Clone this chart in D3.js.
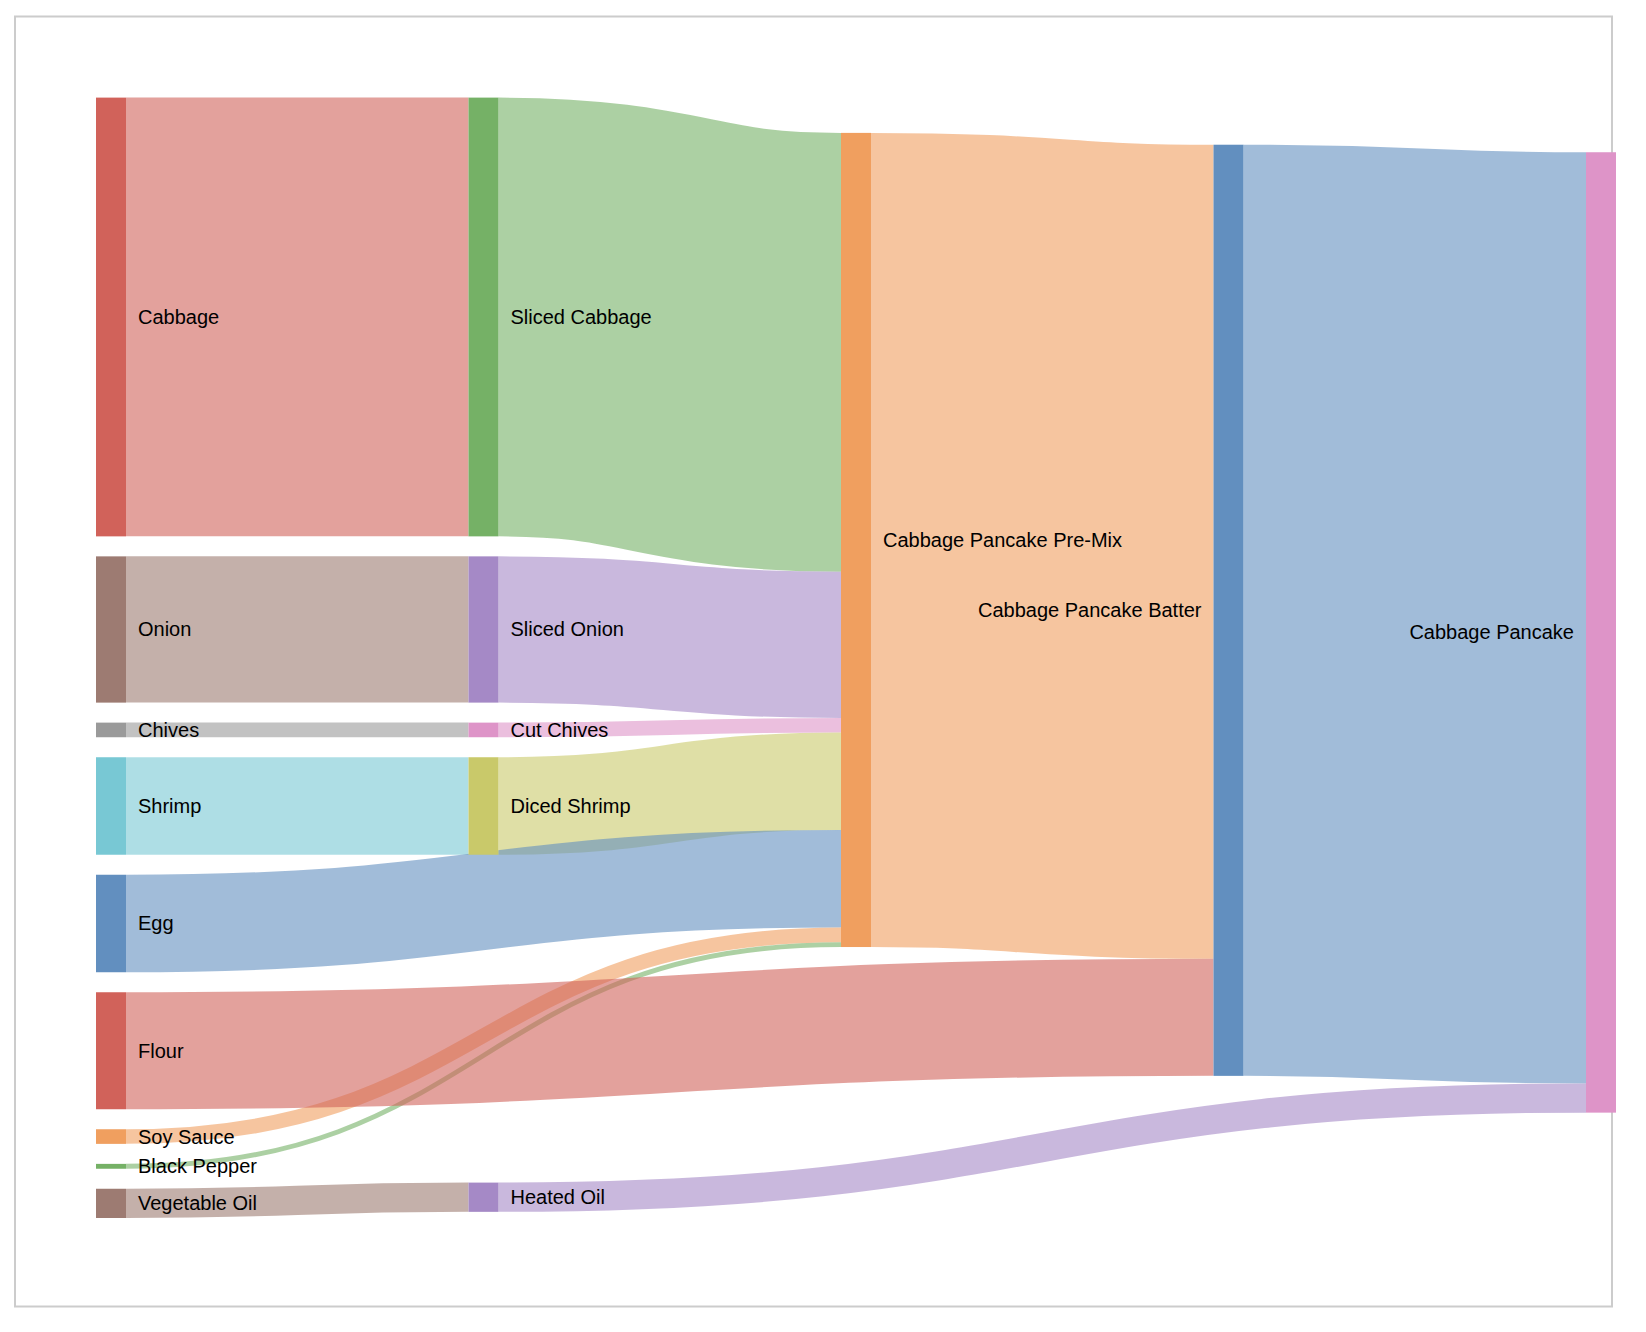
<!DOCTYPE html>
<html>
<head>
<meta charset="utf-8">
<script src="https://cdn.jsdelivr.net/npm/d3@7"></script>
<style>
  html, body { margin: 0; padding: 0; background: #fff; }
  svg { display: block; }
  text { font-family: "Liberation Sans", Arial, Helvetica, sans-serif; }
</style>
</head>
<body>
<svg id="chart" width="1646" height="1332"></svg>
<script>
// ---------------- data ----------------
const nodeNames = [
  "Cabbage", "Onion", "Chives", "Shrimp", "Egg", "Flour", "Soy Sauce", "Black Pepper", "Vegetable Oil",
  "Sliced Cabbage", "Sliced Onion", "Cut Chives", "Diced Shrimp", "Heated Oil",
  "Cabbage Pancake Pre-Mix", "Cabbage Pancake Batter", "Cabbage Pancake"
];
const linkSources = [
  "Cabbage", "Onion", "Chives", "Shrimp", "Vegetable Oil",
  "Sliced Cabbage", "Sliced Onion", "Cut Chives", "Diced Shrimp", "Egg", "Soy Sauce", "Black Pepper",
  "Cabbage Pancake Pre-Mix", "Flour",
  "Cabbage Pancake Batter", "Heated Oil"
];
const linkTargets = [
  "Sliced Cabbage", "Sliced Onion", "Cut Chives", "Diced Shrimp", "Heated Oil",
  "Cabbage Pancake Pre-Mix", "Cabbage Pancake Pre-Mix", "Cabbage Pancake Pre-Mix", "Cabbage Pancake Pre-Mix",
  "Cabbage Pancake Pre-Mix", "Cabbage Pancake Pre-Mix", "Cabbage Pancake Pre-Mix",
  "Cabbage Pancake Batter", "Cabbage Pancake Batter",
  "Cabbage Pancake", "Cabbage Pancake"
];
const linkValues = [
  450, 150, 15, 100, 30,
  450, 150, 15, 100, 100, 15, 5,
  835, 120,
  955, 30
];

// ---------------- style ----------------
const palette = {
  red: "#d1625a", green: "#75b166", brown: "#9d7b72", purple: "#a589c6", grey: "#9a9a9a",
  pink: "#de94c8", cyan: "#78c8d4", olive: "#c9c96a", blue: "#628fbf", orange: "#f09f5f"
};
const nodeColorKey = {
  "Cabbage": "red", "Onion": "brown", "Chives": "grey", "Shrimp": "cyan", "Egg": "blue",
  "Flour": "red", "Soy Sauce": "orange", "Black Pepper": "green", "Vegetable Oil": "brown",
  "Sliced Cabbage": "green", "Sliced Onion": "purple", "Cut Chives": "pink", "Diced Shrimp": "olive",
  "Heated Oil": "purple", "Cabbage Pancake Pre-Mix": "orange", "Cabbage Pancake Batter": "blue",
  "Cabbage Pancake": "pink"
};
const ext = { x0: 96, y0: 97.6, x1: 1616, y1: 1218 };
const nodeWidth = 30, nodePadding = 20, iterations = 6;
const keepInputOrder = true;

// ---------------- sankey layout (d3-sankey algorithm) ----------------
function sankeyLayout(nodesIn, linksIn) {
  const nodes = nodesIn.map((name, i) => ({ name, index: i, sourceLinks: [], targetLinks: [] }));
  const byName = new Map(nodes.map(n => [n.name, n]));
  const links = linksIn.map((l, i) => ({ index: i, source: byName.get(l.source), target: byName.get(l.target), value: l.value }));
  for (const l of links) { l.source.sourceLinks.push(l); l.target.targetLinks.push(l); }
  for (const n of nodes) n.value = Math.max(d3.sum(n.sourceLinks, d => d.value), d3.sum(n.targetLinks, d => d.value));

  let current = new Set(nodes), next = new Set, x = 0;
  while (current.size) {
    for (const n of current) { n.depth = x; for (const { target } of n.sourceLinks) next.add(target); }
    ++x; current = next; next = new Set;
  }
  const nCols = d3.max(nodes, d => d.depth) + 1;
  const xScale = d3.scaleLinear().domain([0, nCols - 1]).range([ext.x0, ext.x1 - nodeWidth]);
  const columns = Array.from({ length: nCols }, () => []);
  for (const n of nodes) {
    const i = n.sourceLinks.length ? n.depth : nCols - 1;
    n.layer = i; n.x0 = xScale(i); n.x1 = n.x0 + nodeWidth;
    columns[i].push(n);
  }
  const py = Math.min(nodePadding, (ext.y1 - ext.y0) / (d3.max(columns, c => c.length) - 1));
  const ky = d3.min(columns, c => (ext.y1 - ext.y0 - (c.length - 1) * py) / d3.sum(c, d => d.value));
  const hScale = d3.scaleLinear().domain([0, 1]).range([0, ky]);

  const asc = (a, b) => a.y0 - b.y0;
  const ascSrc = (a, b) => asc(a.source, b.source) || a.index - b.index;
  const ascTgt = (a, b) => asc(a.target, b.target) || a.index - b.index;
  function reorderLinks(col) { for (const n of col) { n.sourceLinks.sort(ascTgt); n.targetLinks.sort(ascSrc); } }
  function reorderNodeLinks(n) {
    for (const { source } of n.targetLinks) source.sourceLinks.sort(ascTgt);
    for (const { target } of n.sourceLinks) target.targetLinks.sort(ascSrc);
  }

  for (const col of columns) {
    let y = ext.y0;
    for (const n of col) {
      n.y0 = y; n.y1 = y + hScale(n.value); y = n.y1 + py;
      for (const l of n.sourceLinks) l.width = hScale(l.value);
    }
    y = (ext.y1 - y + py) / (col.length + 1);
    col.forEach((n, i) => { n.y0 += y * (i + 1); n.y1 += y * (i + 1); });
    reorderLinks(col);
  }

  function targetTop(source, target) {
    let y = source.y0 - (source.sourceLinks.length - 1) * py / 2;
    for (const { target: node, width } of source.sourceLinks) { if (node === target) break; y += width + py; }
    for (const { source: node, width } of target.targetLinks) { if (node === source) break; y -= width; }
    return y;
  }
  function sourceTop(source, target) {
    let y = target.y0 - (target.targetLinks.length - 1) * py / 2;
    for (const { source: node, width } of target.targetLinks) { if (node === source) break; y += width + py; }
    for (const { target: node, width } of source.sourceLinks) { if (node === target) break; y -= width; }
    return y;
  }
  function topToBottom(col, y, i, alpha) {
    for (; i < col.length; ++i) { const n = col[i]; const dy = (y - n.y0) * alpha; if (dy > 1e-6) { n.y0 += dy; n.y1 += dy; } y = n.y1 + py; }
  }
  function bottomToTop(col, y, i, alpha) {
    for (; i >= 0; --i) { const n = col[i]; const dy = (n.y1 - y) * alpha; if (dy > 1e-6) { n.y0 -= dy; n.y1 -= dy; } y = n.y0 - py; }
  }
  function resolveCollisions(col, alpha) {
    const i = col.length >> 1, s = col[i];
    bottomToTop(col, s.y0 - py, i - 1, alpha);
    topToBottom(col, s.y1 + py, i + 1, alpha);
    bottomToTop(col, ext.y1, col.length - 1, alpha);
    topToBottom(col, ext.y0, 0, alpha);
  }
  function relaxLeftToRight(alpha, beta) {
    for (let i = 1; i < columns.length; ++i) {
      const col = columns[i];
      for (const t of col) {
        let y = 0, w = 0;
        for (const { source, value } of t.targetLinks) { const v = value * (t.layer - source.layer); y += targetTop(source, t) * v; w += v; }
        if (!(w > 0)) continue;
        const dy = (y / w - t.y0) * alpha; t.y0 += dy; t.y1 += dy; reorderNodeLinks(t);
      }
      if (!keepInputOrder) col.sort(asc);
      resolveCollisions(col, beta);
    }
  }
  function relaxRightToLeft(alpha, beta) {
    for (let i = columns.length - 2; i >= 0; --i) {
      const col = columns[i];
      for (const s of col) {
        let y = 0, w = 0;
        for (const { target, value } of s.sourceLinks) { const v = value * (target.layer - s.layer); y += sourceTop(s, target) * v; w += v; }
        if (!(w > 0)) continue;
        const dy = (y / w - s.y0) * alpha; s.y0 += dy; s.y1 += dy; reorderNodeLinks(s);
      }
      if (!keepInputOrder) col.sort(asc);
      resolveCollisions(col, beta);
    }
  }
  for (let i = 0; i < iterations; ++i) {
    const alpha = Math.pow(0.99, i);
    const beta = Math.max(1 - alpha, (i + 1) / iterations);
    relaxRightToLeft(alpha, beta);
    relaxLeftToRight(alpha, beta);
  }
  for (const n of nodes) {
    let a = n.y0, b = n.y0;
    for (const l of n.sourceLinks) { l.y0 = a + l.width / 2; a += l.width; }
    for (const l of n.targetLinks) { l.y1 = b + l.width / 2; b += l.width; }
  }
  return { nodes, links, nCols };
}

const graph = sankeyLayout(nodeNames, linkSources.map((s, i) => ({ source: s, target: linkTargets[i], value: linkValues[i] })));

// ---------------- render ----------------
const svg = d3.select("#chart");
svg.append("rect")
  .attr("x", 15).attr("y", 16.5).attr("width", 1597).attr("height", 1290)
  .attr("fill", "#fff").attr("stroke", "#cccccc").attr("stroke-width", 2);

const color = d => palette[nodeColorKey[d.name]];
const linkPath = d3.linkHorizontal().source(d => [d.source.x1, d.y0]).target(d => [d.target.x0, d.y1]);

svg.append("g")
  .attr("fill", "none")
  .selectAll("path")
  .data(graph.links)
  .join("path")
  .attr("d", linkPath)
  .attr("stroke", d => color(d.source))
  .attr("stroke-opacity", 0.6)
  .attr("stroke-width", d => Math.max(1, d.width));

svg.append("g")
  .selectAll("rect")
  .data(graph.nodes)
  .join("rect")
  .attr("x", d => d.x0).attr("y", d => d.y0)
  .attr("width", d => d.x1 - d.x0).attr("height", d => Math.max(1, d.y1 - d.y0))
  .attr("fill", color);

svg.append("g")
  .attr("font-size", 20)
  .attr("fill", "#000")
  .selectAll("text")
  .data(graph.nodes)
  .join("text")
  .attr("x", d => d.layer < 3 ? d.x1 + 12 : d.x0 - 12)
  .attr("y", d => (d.y0 + d.y1) / 2)
  .attr("dy", "0.35em")
  .attr("text-anchor", d => d.layer < 3 ? "start" : "end")
  .text(d => d.name);
</script>
</body>
</html>
